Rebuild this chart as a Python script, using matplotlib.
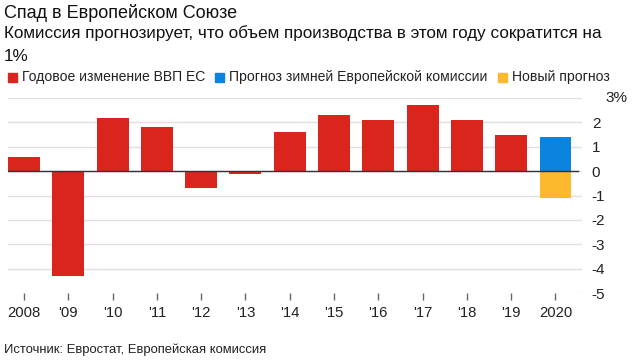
import numpy as np
import matplotlib.pyplot as plt

plt.rcParams['font.family'] = ['Liberation Sans', 'DejaVu Sans']

# Data
year_labels = ['2008', "'09", "'10", "'11", "'12", "'13", "'14",
               "'15", "'16", "'17", "'18", "'19", '2020']
gdp_change = [0.6, -4.3, 2.2, 1.8, -0.7, -0.1, 1.6, 2.3, 2.1, 2.7, 2.1, 1.5]
winter_forecast = 1.4
new_forecast = -1.1

red = '#da251d'
blue = '#0a84de'
yellow = '#fcb92d'

fig = plt.figure(figsize=(6.35, 3.63), dpi=100)
ax = fig.add_axes([0.0126, 0.1928, 0.904, 0.537])

x = np.arange(len(year_labels))
w = 0.72
ax.bar(x[:-1], gdp_change, width=w, color=red, zorder=2)
ax.bar(x[-1], winter_forecast, width=w, color=blue, zorder=2)
ax.bar(x[-1], new_forecast, width=w, color=yellow, zorder=2)

ax.set_xlim(-0.361, 12.6)
ax.set_ylim(-5, 3)

# grid
for v in range(-4, 4):
    ax.axhline(v, color='#e0e0e0', lw=1, zorder=1)
ax.axhline(-5, xmin=0.992, xmax=1, color='#e0e0e0', lw=1, zorder=1)
ax.axhline(0, xmax=(12.5 + 0.361) / (12.6 + 0.361), color='#333333', lw=1, zorder=3)

for s in ax.spines.values():
    s.set_visible(False)

ax.set_xticks(x)
ax.set_xticklabels(year_labels, fontsize=10.7, color='#222222')
ax.tick_params(axis='x', length=5, width=1, color='#666666', pad=4)

ax.yaxis.tick_right()
ax.set_yticks(range(-5, 3))
ax.set_yticklabels([str(v) for v in range(-5, 3)], fontsize=11, color='#222222', ha='left')
ax.tick_params(axis='y', length=0, pad=7)
ax.text(1.040, 3, '3%', transform=ax.get_yaxis_transform(), fontsize=11,
        color='#222222', ha='left', va='center')

# titles
fig.text(0.006, 0.963, 'Спад в Европейском Союзе', fontsize=13, color='#111111', va='center')
fig.text(0.006, 0.91, 'Комиссия прогнозирует, что объем производства в этом году сократится на',
         fontsize=12.3, color='#111111', va='center')
fig.text(0.006, 0.845, '1%', fontsize=12.3, color='#111111', va='center')

# legend
legend_items = [('Годовое изменение ВВП ЕС', red),
                ('Прогноз зимней Европейской комиссии', blue),
                ('Новый прогноз', yellow)]
lx = [8, 215, 498]
for (label, col), px in zip(legend_items, lx):
    fig.patches.append(plt.Rectangle((px / 635, 1 - 82 / 363), 9 / 635, 9 / 363,
                                     transform=fig.transFigure, color=col))
    fig.text((px + 14) / 635, 1 - 77 / 363, label, fontsize=10.1, color='#222222', va='center')

fig.text(0.006, 1 - 350 / 363, 'Источник: Евростат, Европейская комиссия',
         fontsize=9.4, color='#222222', va='center')

fig.savefig('out.png', dpi=100)
